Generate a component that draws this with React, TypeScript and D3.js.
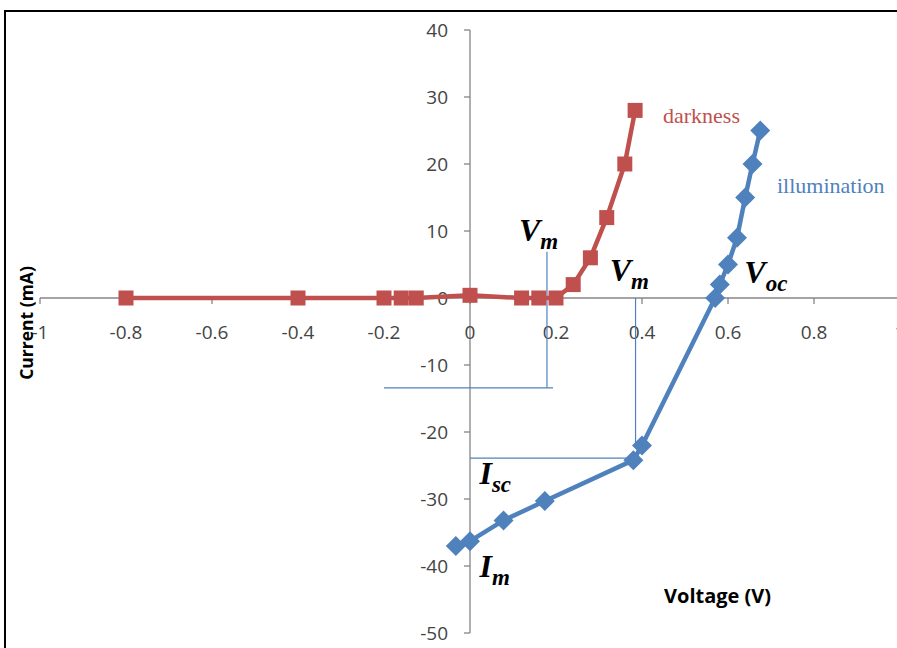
import React from 'react'
import * as d3 from 'd3'

// darkness (red squares)
const darkV = [-0.8, -0.4, -0.2, -0.16, -0.125, 0, 0.12, 0.16, 0.2, 0.24, 0.28, 0.318, 0.36, 0.384]
const darkI = [0, 0, 0, 0, 0, 0.4, 0, 0, 0, 2, 6, 12, 20, 28]

// illumination (blue diamonds)
const illumV = [-0.033, 0, 0.078, 0.174, 0.38, 0.4, 0.57, 0.581, 0.6, 0.621, 0.64, 0.657, 0.675]
const illumI = [-37, -36.3, -33.2, -30.3, -24.2, -22, 0, 2, 5, 9, 15, 20, 25]

const xTicks = [-1, -0.8, -0.6, -0.4, -0.2, 0, 0.2, 0.4, 0.6, 0.8, 1]
const yTicks = [40, 30, 20, 10, 0, -10, -20, -30, -40, -50]

// construction lines for Vm / Isc
const guideV1 = { v: 0.179, top: 6.9, bottom: -13.4, left: -0.2 }
const guideV2 = { v: 0.385, top: 0, bottom: -21.8, lineI: -23.9 }

const labels = [
  { main: 'V', sub: 'm', v: 0.114, i: 8.5 },
  { main: 'V', sub: 'm', v: 0.325, i: 2.6 },
  { main: 'V', sub: 'oc', v: 0.638, i: 2.2 },
  { main: 'I', sub: 'sc', v: 0.022, i: -27.8 },
  { main: 'I', sub: 'm', v: 0.022, i: -41.6 },
]

const RED = '#C0504D'
const BLUE = '#4F81BD'
const AXIS = '#868686'
const TEXT = '#444444'

export default function App() {
  const x = d3.scaleLinear().domain([-1, 1]).range([40, 900])
  const y = d3.scaleLinear().domain([-50, 40]).range([633, 30])

  const dark = darkV.map((v, k) => [v, darkI[k]] as [number, number])
  const illum = illumV.map((v, k) => [v, illumI[k]] as [number, number])
  const line = d3.line<[number, number]>().x(d => x(d[0])).y(d => y(d[1]))

  const sq = 15
  const dm = 10

  return (
    <div style={{ position: 'absolute', left: 0, top: 0 }}>
      <svg width={897} height={648} style={{ display: 'block', background: '#fff' }}>
        <rect x={5} y={11} width={910} height={660} fill="none" stroke="#000" strokeWidth={2} />

        {/* axes */}
        <line x1={x(-1)} x2={x(1)} y1={y(0)} y2={y(0)} stroke={AXIS} strokeWidth={1.3} />
        <line x1={x(0)} x2={x(0)} y1={y(40)} y2={y(-50)} stroke={AXIS} strokeWidth={1.3} />
        {xTicks.map(t => (
          <line key={'xt' + t} x1={x(t)} x2={x(t)} y1={y(0)} y2={y(0) + 6} stroke={AXIS} strokeWidth={1.3} />
        ))}
        {yTicks.map(t => (
          <line key={'yt' + t} x1={x(0) - 6} x2={x(0)} y1={y(t)} y2={y(t)} stroke={AXIS} strokeWidth={1.3} />
        ))}
        {yTicks.map(t => (
          <text key={'yl' + t} x={x(0) - 22} y={y(t)} dy="0.36em" textAnchor="end"
            fontFamily="Open Sans" fontSize={19} fill={TEXT}>{t}</text>
        ))}
        {xTicks.map(t => (
          <text key={'xl' + t} x={x(t)} y={y(0) + 41} textAnchor="middle"
            fontFamily="Open Sans" fontSize={19} fill={TEXT}>{t}</text>
        ))}

        {/* guide lines */}
        <g stroke={BLUE} strokeWidth={1.2}>
          <line x1={x(guideV1.v)} x2={x(guideV1.v)} y1={y(guideV1.top)} y2={y(guideV1.bottom)} />
          <line x1={x(guideV1.left)} x2={x(guideV1.v + 0.014)} y1={y(guideV1.bottom)} y2={y(guideV1.bottom)} />
          <line x1={x(guideV2.v)} x2={x(guideV2.v)} y1={y(guideV2.top)} y2={y(guideV2.bottom)} />
          <line x1={x(0)} x2={x(guideV2.v - 0.005)} y1={y(guideV2.lineI)} y2={y(guideV2.lineI)} />
        </g>

        {/* darkness */}
        <path d={line(dark) || ''} fill="none" stroke={RED} strokeWidth={4.5} strokeLinejoin="round" />
        {dark.map((d, k) => (
          <rect key={'d' + k} x={x(d[0]) - sq / 2} y={y(d[1]) - sq / 2} width={sq} height={sq} fill={RED} />
        ))}

        {/* illumination */}
        <path d={line(illum) || ''} fill="none" stroke={BLUE} strokeWidth={4.5} strokeLinejoin="round" />
        {illum.map((d, k) => (
          <path key={'i' + k}
            d={`M${x(d[0])},${y(d[1]) - dm}L${x(d[0]) + dm},${y(d[1])}L${x(d[0])},${y(d[1]) + dm}L${x(d[0]) - dm},${y(d[1])}Z`}
            fill={BLUE} />
        ))}

        {/* series names */}
        <text x={663} y={123} fontFamily="Liberation Serif" fontSize={22} fill={RED}>darkness</text>
        <text x={777} y={193} fontFamily="Liberation Serif" fontSize={22} fill={BLUE}>illumination</text>

        {/* math labels */}
        {labels.map((l, k) => (
          <text key={'m' + k} x={x(l.v)} y={y(l.i)} fontFamily="Liberation Serif" fontWeight="bold"
            fontStyle="italic" fill="#000" fontSize={32}>
            {l.main}
            <tspan fontSize={23} dy={8}>{l.sub}</tspan>
          </text>
        ))}

        {/* axis titles */}
        <text x={664} y={603} fontFamily="Open Sans" fontWeight="bold" fontSize={20} fill="#000">Voltage (V)</text>
        <text transform="translate(33,323) rotate(-90)" textAnchor="middle" fontFamily="Open Sans"
          fontWeight="bold" fontSize={17.5} fill="#000">Current (mA)</text>
      </svg>
    </div>
  )
}
